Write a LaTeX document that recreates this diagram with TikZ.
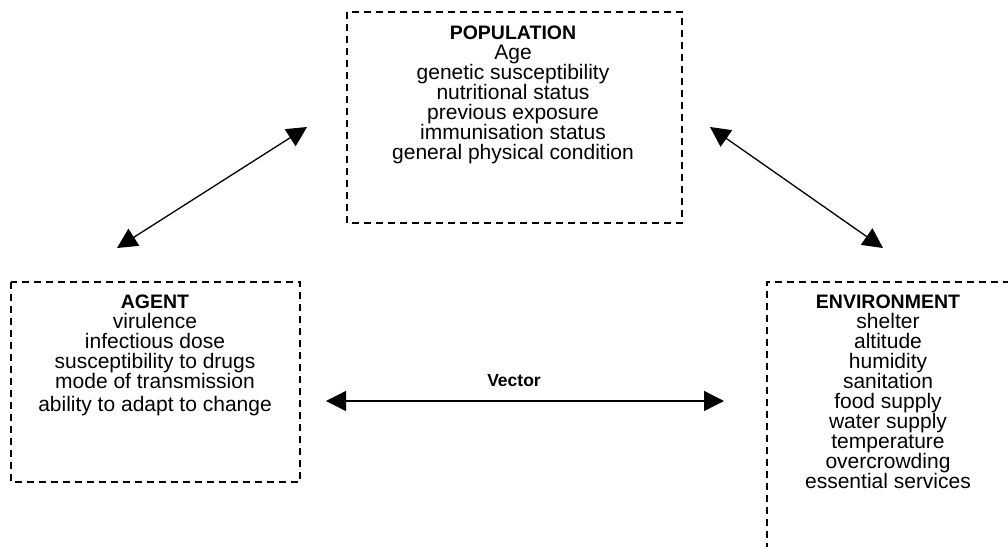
\documentclass[tikz,border=0pt]{standalone}
\usepackage{fontspec}
\setmainfont{Liberation Sans}
\usetikzlibrary{arrows.meta}
\newcommand\hd[1]{{\fontsize{19.5}{20}\selectfont\bfseries #1}}
\tikzset{
  box/.style={draw, line width=1.4pt, dash pattern=on 7pt off 5pt},
  txt/.style={align=center, inner sep=0pt, anchor=north, font=\fontsize{21}{20}\selectfont},
  link/.style={line width=1.3pt, {Triangle[length=20pt,width=20pt]}-{Triangle[length=20pt,width=20pt]}}
}
\begin{document}
\begin{tikzpicture}[x=1pt,y=-1pt]
\useasboundingbox (0,0) rectangle (1008,546);
% boxes
\draw[box] (347,12) rectangle (682,223);
\draw[box] (11,282) rectangle (300,482);
\draw[box] (767,550) -- (767,282) -- (1012,282);
% texts
\node[txt] (pop) at (513,26) {\hd{POPULATION}\\Age\\genetic susceptibility\\nutritional status\\previous exposure\\immunisation status\\general physical condition};
\node[txt] (agent) at (155,295) {\hd{AGENT}\\virulence\\infectious dose\\susceptibility to drugs\\mode of transmission\\[3pt]ability to adapt to change};
\node[txt] (env) at (888,295) {\hd{ENVIRONMENT}\\shelter\\altitude\\humidity\\sanitation\\food supply\\water supply\\temperature\\overcrowding\\essential services};
% arrow ends
\coordinate (a1) at (117,248);
\coordinate (a2) at (307,127);
\coordinate (b1) at (710,127);
\coordinate (b2) at (883,248);
\coordinate (v1) at (326,401);
\coordinate (v2) at (724,401);
\draw[link] (a1) -- (a2);
\draw[link] (b1) -- (b2);
\draw[link] (v1) -- (v2);
\node[font=\fontsize{17.5}{18}\selectfont\bfseries, inner sep=0pt] (vec) at (514,381) {Vector};
\end{tikzpicture}
\end{document}
